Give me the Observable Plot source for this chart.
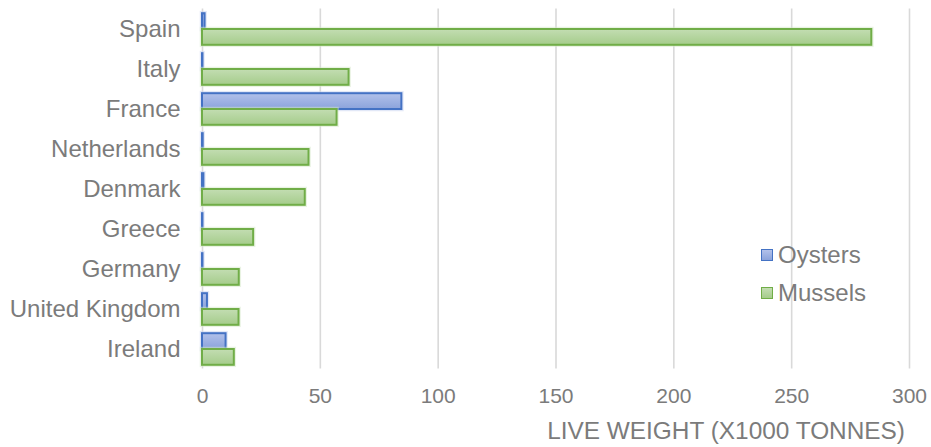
<!DOCTYPE html>
<html>
<head>
<meta charset="utf-8">
<script src="https://cdn.jsdelivr.net/npm/d3@7"></script>
<script src="https://cdn.jsdelivr.net/npm/@observablehq/plot@0.6"></script>
<style>
  body { margin: 0; background: #fff; }
  #chart { position: relative; width: 931px; height: 447px; font-family: "Liberation Sans", Arial, sans-serif; color: #7b7b7b; }
  #chart svg { display: block; }
  .axis-title { position: absolute; right: 26px; top: 417px; font-size: 24.4px; white-space: nowrap; }
  .legend { position: absolute; left: 761px; top: 236px; font-size: 24px; }
  .legend .item { display: flex; align-items: center; height: 38px; }
  .legend .sw { width: 10px; height: 10px; margin-right: 5px; }
</style>
</head>
<body>
<div id="chart"></div>
<script>
// Live weight of shellfish production (thousand tonnes) by country
const countries = ["Spain", "Italy", "France", "Netherlands", "Denmark", "Greece", "Germany", "United Kingdom", "Ireland"];
const oysters = [1.1, 0.2, 84.6, 0.3, 0.6, 0.2, 0.2, 2.1, 10.0];
const mussels = [284.0, 62.2, 57.1, 45.2, 43.6, 21.7, 15.6, 15.5, 13.5];
const xTicks = [0, 50, 100, 150, 200, 250, 300];
const seriesNames = ["Oysters", "Mussels"];

// Fill gradients and outline colours per series
const seriesStyle = {
  Oysters: { top: "#b2c1ea", bottom: "#8ba3db", stroke: "#4472c4", halo: "#c5d2f0" },
  Mussels: { top: "#c3ddb2", bottom: "#a5cc8b", stroke: "#70ad47", halo: "#d3e8c6" }
};

const rows = countries.map((country, i) => ({ country, Oysters: oysters[i], Mussels: mussels[i] }));

// Two bars per country band: the first series fills the upper half, the second the lower half
const bandInsets = {
  Oysters: { insetTop: 4.2, insetBottom: 20 },
  Mussels: { insetTop: 20, insetBottom: 4.2 }
};

const barMarks = seriesNames.flatMap((name) => [
  Plot.barX(rows, { y: "country", x: name, ...bandInsets[name], fill: "none", stroke: seriesStyle[name].halo, strokeWidth: 4.5, strokeOpacity: 0.5 }),
  Plot.barX(rows, { y: "country", x: name, ...bandInsets[name], fill: `url(#grad-${name})`, stroke: seriesStyle[name].stroke, strokeWidth: 2 })
]);

const svg = Plot.plot({
  width: 931,
  height: 412,
  marginTop: 8.5,
  marginBottom: 43.5,
  marginLeft: 202,
  marginRight: 22,
  style: { fontFamily: '"Liberation Sans", Arial, sans-serif', fontSize: "21px", color: "#7b7b7b", background: "transparent" },
  x: { domain: [0, 300], ticks: xTicks, tickSize: 0, tickPadding: 19, label: null },
  y: { domain: countries, padding: 0, tickSize: 0, tickPadding: 22, label: null },
  marks: [
    Plot.ruleX(xTicks, { stroke: "#d9d9d9", strokeWidth: 1.6 }),
    ...barMarks
  ]
});

// Country labels are set larger than the numeric ticks
svg.querySelectorAll("g[aria-label='y-axis'] text, g[aria-label='y-axis tick label'] text")
  .forEach((t) => t.setAttribute("font-size", "24"));
svg.querySelectorAll("g[aria-label='y-axis'], g[aria-label='y-axis tick label']")
  .forEach((g) => g.setAttribute("font-size", "24"));

// Vertical fill gradients used by the bars
const ns = "http://www.w3.org/2000/svg";
const defs = document.createElementNS(ns, "defs");
for (const name of seriesNames) {
  const g = document.createElementNS(ns, "linearGradient");
  g.setAttribute("id", `grad-${name}`);
  g.setAttribute("x1", "0"); g.setAttribute("y1", "0");
  g.setAttribute("x2", "0"); g.setAttribute("y2", "1");
  [["0", seriesStyle[name].top], ["1", seriesStyle[name].bottom]].forEach(([off, col]) => {
    const s = document.createElementNS(ns, "stop");
    s.setAttribute("offset", off);
    s.setAttribute("stop-color", col);
    g.appendChild(s);
  });
  defs.appendChild(g);
}
svg.insertBefore(defs, svg.firstChild);

const chart = document.getElementById("chart");
chart.appendChild(svg);

// Axis title
const title = document.createElement("div");
title.className = "axis-title";
title.textContent = "LIVE WEIGHT (X1000 TONNES)";
chart.appendChild(title);

// Legend inside the plot area
const legend = document.createElement("div");
legend.className = "legend";
for (const name of seriesNames) {
  const item = document.createElement("div");
  item.className = "item";
  const sw = document.createElement("span");
  sw.className = "sw";
  sw.style.background = `linear-gradient(${seriesStyle[name].top}, ${seriesStyle[name].bottom})`;
  sw.style.border = `1.5px solid ${seriesStyle[name].stroke}`;
  item.appendChild(sw);
  item.appendChild(document.createTextNode(name));
  legend.appendChild(item);
}
chart.appendChild(legend);
</script>
</body>
</html>
